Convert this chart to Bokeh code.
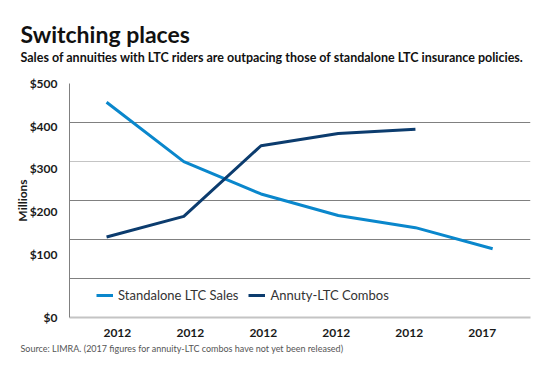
from bokeh.plotting import figure
from bokeh.models import FixedTicker, Legend, LegendItem, Grid, Range1d, Title
from bokeh.embed import file_html
from bokeh.resources import INLINE

# ---- data ----
x_labels = ["2012", "2012", "2012", "2012", "2012", "2017"]
standalone = [460, 333, 264, 218, 192, 147]
combos = [172, 216, 367, 393, 402]
y_tick_labels = ["$0", "$100", "$200", "$300", "$400", "$500"]

LIGHT = "#0a87cc"
DARK = "#0c3c6e"
FONT = "Lato"

W, H = 531, 355
p = figure(width=W, height=H, output_backend="svg", toolbar_location=None,
           x_range=Range1d(-0.48, 5.49), y_range=Range1d(0, 500),
           min_border_left=69, min_border_right=1, min_border_top=83,
           min_border_bottom=36)
p.title.visible = False
p.outline_line_color = None
p.background_fill_color = "white"
p.border_fill_color = "white"

xs_a = list(range(len(standalone)))
xs_b = list(range(len(combos)))
r1 = p.line(xs_a, standalone, line_color=LIGHT, line_width=3, line_join="round")
r2 = p.line(xs_b, combos, line_color=DARK, line_width=3, line_join="round")

# grids
p.xgrid.visible = False
step = 500 / 6
p.ygrid.ticker = FixedTicker(ticks=[step * k for k in (1, 2, 3, 5, 6)])
p.ygrid.grid_line_color = "#808080"
p.ygrid.grid_line_width = 1
light_grid = Grid(dimension=1, ticker=FixedTicker(ticks=[step * 4]),
                  grid_line_color="#c4c4c4", grid_line_width=1)
p.add_layout(light_grid)

# y axis (label positions as drawn in the original)
ypos = [0, 135, 227, 319, 409, 500]
p.yaxis.ticker = FixedTicker(ticks=ypos)
p.yaxis.major_label_overrides = {v: t for v, t in zip(ypos, y_tick_labels)}
p.yaxis.axis_line_color = "#808080"
p.yaxis.axis_line_width = 1
p.yaxis.major_tick_line_color = None
p.yaxis.minor_tick_line_color = None
p.yaxis.major_label_standoff = 6
p.yaxis.major_label_text_font = FONT
p.yaxis.major_label_text_font_size = "12px"
p.yaxis.major_label_text_font_style = "bold"
p.yaxis.major_label_text_color = "#1a1a1a"
p.yaxis.axis_label = "Millions"
p.yaxis.axis_label_text_font = FONT
p.yaxis.axis_label_text_font_size = "12px"
p.yaxis.axis_label_text_font_style = "bold"
p.yaxis.axis_label_text_color = "#1a1a1a"
p.yaxis.axis_label_standoff = -3

# x axis
xpos = [round(0.14 + 0.945 * i, 3) for i in range(len(x_labels))]
p.xaxis.ticker = FixedTicker(ticks=xpos)
p.xaxis.major_label_overrides = {v: t for v, t in zip(xpos, x_labels)}
p.xaxis.axis_line_color = "#c4c4c4"
p.xaxis.axis_line_width = 2
p.xaxis.major_tick_line_color = None
p.xaxis.minor_tick_line_color = None
p.xaxis.major_label_standoff = 5
p.xaxis.major_label_text_font = FONT
p.xaxis.major_label_text_font_size = "12px"
p.xaxis.major_label_text_font_style = "bold"
p.xaxis.major_label_text_color = "#1a1a1a"

legend = Legend(items=[LegendItem(label="Standalone LTC Sales", renderers=[r1]),
                       LegendItem(label="Annuty-LTC Combos", renderers=[r2])],
                orientation="horizontal", location=(27, 14),
                border_line_color=None, background_fill_alpha=0,
                padding=0, margin=0, spacing=10, label_standoff=5,
                glyph_width=17, glyph_height=14,
                label_text_font=FONT, label_text_font_size="13px",
                label_text_color="#333333")
p.add_layout(legend)

sub = Title(text="Sales of annuities with LTC riders are outpacing those of standalone LTC insurance policies.",
            align="left", offset=-49, standoff=37,
            text_font=FONT, text_font_size="12.5px", text_font_style="bold",
            text_color="#111111")
p.add_layout(sub, "above")
ttl = Title(text="Switching places", align="left", offset=-49, standoff=-37,
            text_font=FONT, text_font_size="23px", text_font_style="bold",
            text_color="#111111")
p.add_layout(ttl, "above")
src = Title(text="Source: LIMRA. (2017 figures for annuity-LTC combos have not yet been released)",
            align="left", offset=-49, standoff=3,
            text_font=FONT, text_font_size="9px", text_font_style="normal",
            text_color="#555555")
p.add_layout(src, "below")

open("out.html", "w").write(file_html(p, INLINE))
